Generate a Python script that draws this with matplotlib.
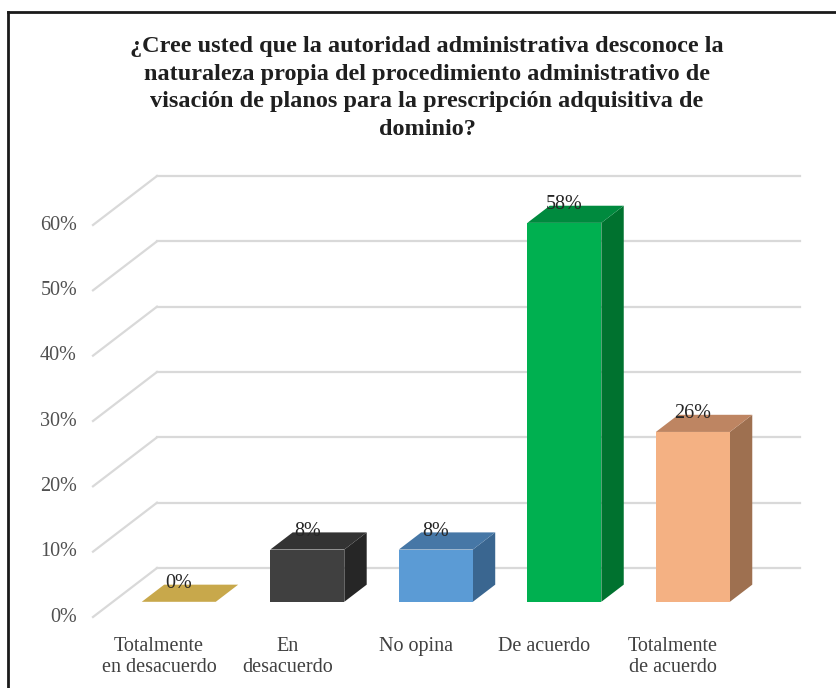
import matplotlib
matplotlib.use("Agg")
import matplotlib.pyplot as plt
from matplotlib.patches import Polygon

# data
categories = ["Totalmente\nen desacuerdo", "En\ndesacuerdo", "No opina",
              "De acuerdo", "Totalmente\nde acuerdo"]
values = [0, 8, 8, 58, 26]
value_labels = ["0%", "8%", "8%", "58%", "26%"]
yticks = [0, 10, 20, 30, 40, 50, 60]
title = ("¿Cree usted que la autoridad administrativa desconoce la\n"
         "naturaleza propia del procedimiento administrativo de\n"
         "visación de planos para la prescripción adquisitiva de\n"
         "dominio?")

# (front, top, side) shades per bar
face_colors = ["#C8A84B", "#404040", "#5B9BD5", "#00B050", "#F4B183"]
top_colors = ["#C8A84B", "#333333", "#4677A6", "#008A3E", "#BE8562"]
side_colors = ["#A88C3C", "#262626", "#3A6690", "#00722F", "#9E7050"]

plt.rcParams["font.family"] = ["Liberation Serif", "DejaVu Serif"]

W, H = 836, 688
fig = plt.figure(figsize=(W / 100, H / 100), dpi=100)

# front plane of the 3d box, in pixels: x 93..736, y (from top) 617..225
ax = fig.add_axes([93 / W, (H - 617) / H, 643 / W, 392 / H])
xmin, xmax = -0.513, 4.49
ax.set_xlim(xmin, xmax)
ax.set_ylim(0, 60)
ax.axis("off")

# depth of the box converted from pixels to data units
ux = (xmax - xmin) / 643
uy = 60 / 392
DX, DY = 64 * ux, 49 * uy
f_front, f_back = 0.31, 0.66
bw = 74 * ux

grid_kw = dict(color="#D9D9D9", lw=1.6, clip_on=False, zorder=1)
for t in yticks:
    ax.plot([xmin, xmin + DX], [t, t + DY], **grid_kw)
    ax.plot([xmin + DX, xmax + DX], [t + DY, t + DY], **grid_kw)
    ax.text(xmin - 16 * ux, t, f"{t}%", ha="right", va="center",
            fontsize=14.5, color="#505050")

for i, v in enumerate(values):
    x0 = i + f_front * DX - bw / 2
    y0 = f_front * DY
    dx = (f_back - f_front) * DX
    dy = (f_back - f_front) * DY
    x1 = x0 + bw
    top = [(x0, y0 + v), (x1, y0 + v), (x1 + dx, y0 + v + dy), (x0 + dx, y0 + v + dy)]
    if v > 0:
        side = [(x1, y0), (x1 + dx, y0 + dy), (x1 + dx, y0 + v + dy), (x1, y0 + v)]
        front = [(x0, y0), (x1, y0), (x1, y0 + v), (x0, y0 + v)]
        ax.add_patch(Polygon(side, closed=True, fc=side_colors[i], ec="none",
                             zorder=3, clip_on=False))
        ax.add_patch(Polygon(front, closed=True, fc=face_colors[i], ec="none",
                             zorder=4, clip_on=False))
    ax.add_patch(Polygon(top, closed=True, fc=top_colors[i], ec="none",
                         zorder=3, clip_on=False))
    ax.text(i + f_front * DX, v + y0 + dy + 1 * uy, value_labels[i],
            ha="center", va="center", fontsize=14.5, color="#262626",
            zorder=6, clip_on=False)

for i, c in enumerate(categories):
    ax.text(i, -3.1, c, ha="center", va="top", fontsize=14.5,
            color="#404040", linespacing=1.1)

fig.text(427 / W, 1 - 36 / H, title, ha="center", va="top", fontsize=17.5,
         fontweight="bold", color="#1f1f1f", linespacing=1.42)

# frame of the original screenshot (left and top edges)
fig.add_artist(plt.Line2D([8 / W, 8 / W], [0, 1 - 12 / H], color="#1a1a1a",
                          lw=2, transform=fig.transFigure))
fig.add_artist(plt.Line2D([8 / W, 1], [1 - 12 / H, 1 - 12 / H], color="#1a1a1a",
                          lw=2, transform=fig.transFigure))

fig.savefig("out.png", dpi=100)
